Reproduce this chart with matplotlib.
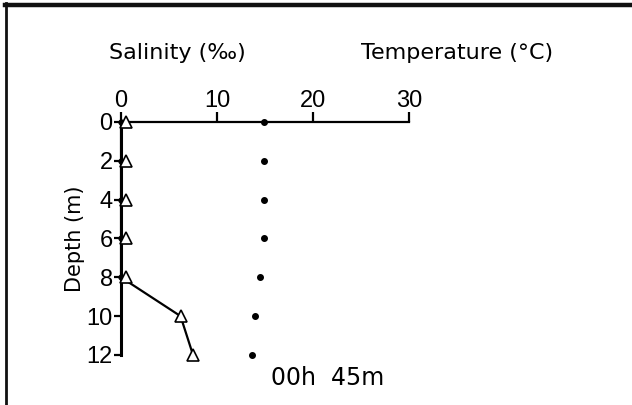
import matplotlib
matplotlib.use("Agg")
import matplotlib.pyplot as plt
from matplotlib.lines import Line2D

# station profile, 00h 45m
depth = [0, 2, 4, 6, 8, 10, 12]
salinity = [0.5, 0.5, 0.5, 0.5, 0.5, 6.2, 7.5]
salinity_line = [0, 0, 0, 0, 0, 6.2, 7.5]
temperature = [14.9, 14.9, 14.9, 14.9, 14.5, 14.0, 13.6]
xticks = [0, 10, 20, 30]
yticks = [0, 2, 4, 6, 8, 10, 12]

plt.rcParams["font.family"] = ["DejaVu Sans"]

fig = plt.figure(figsize=(6.32, 4.05), dpi=100)
ax = fig.add_axes([0.1915, 0.1235, 0.4557, 0.5753])

ax.plot(salinity_line, depth, color="black", lw=1.6, zorder=2, clip_on=False)
ax.plot(salinity_line[:5], depth[:5], "o", color="black", ms=3.5, zorder=3,
        clip_on=False)
ax.plot(salinity, depth, "^", mfc="white", mec="black", mew=1.2, ms=8,
        ls="none", zorder=4, clip_on=False)
ax.plot(temperature, depth, "o", color="black", ms=4, ls="none", zorder=4,
        clip_on=False)

ax.set_xlim(0, 30)
ax.set_ylim(12, 0)
ax.set_xticks(xticks)
ax.set_yticks(yticks)
ax.xaxis.tick_top()
tick_font = {"family": "Liberation Sans", "size": 17}
ax.set_xticklabels([str(t) for t in xticks], fontdict=tick_font)
ax.set_yticklabels([str(t) for t in yticks], fontdict=tick_font)
ax.tick_params(axis="x", direction="out", length=7, width=1.6, pad=0)
ax.tick_params(axis="y", direction="out", length=5, width=1.6, pad=1)
for side in ("right", "bottom"):
    ax.spines[side].set_visible(False)
ax.spines["top"].set_linewidth(1.6)
ax.spines["left"].set_linewidth(2.2)
ax.patch.set_visible(False)

ax.set_ylabel("Depth (m)", fontsize=15, labelpad=1)

fig.text(0.281, 0.869, "Salinity (\u2030)", fontsize=16, ha="center",
         va="center")
fig.text(0.723, 0.869, "Temperature (\u00b0C)", fontsize=16, ha="center",
         va="center")
fig.text(0.519, 0.067, "00h  45m", fontsize=17, ha="center", va="center")

# frame lines along the top and left edge
fig.add_artist(Line2D([0.008, 1.0], [0.988, 0.988], color="#111111", lw=3.2,
                      transform=fig.transFigure))
fig.add_artist(Line2D([0.0095, 0.0095], [0.0, 0.992], color="#111111", lw=2,
                      transform=fig.transFigure))

fig.savefig("out.png", dpi=100)
